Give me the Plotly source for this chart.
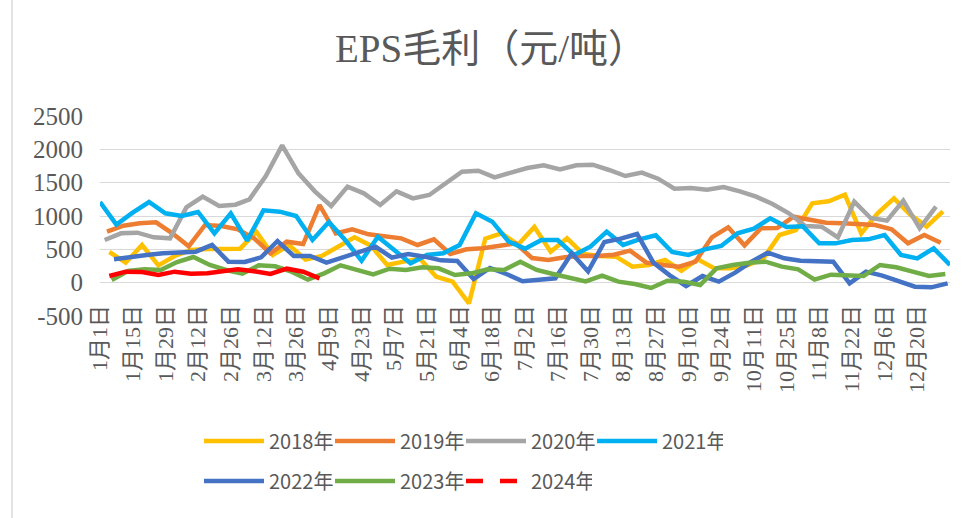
import pandas as pd
import plotly.graph_objects as go

title_text = "EPS毛利（元/吨）"

tick_labels = ["1月1日", "1月15日", "1月29日", "2月12日", "2月26日", "3月12日", "3月26日",
               "4月9日", "4月23日", "5月7日", "5月21日", "6月4日", "6月18日", "7月2日",
               "7月16日", "7月30日", "8月13日", "8月27日", "9月10日", "9月24日", "10月11日",
               "10月25日", "11月8日", "11月22日", "12月6日", "12月20日"]

y_ticks = [-500, 0, 500, 1000, 1500, 2000, 2500]
y_tick_labels = ["-500", "0", "500", "1000", "1500", "2000", "2500"]

series_names = ["2018年", "2019年", "2020年", "2021年", "2022年", "2023年", "2024年"]
# first weekly (Friday) observation of each year
first_dates = ["2018-01-05", "2019-01-04", "2020-01-03", "2021-01-01",
               "2022-01-07", "2023-01-06", "2024-01-05"]

v2018 = [460, 300, 565, 260, 400, 490, 505, 505, 510, 760,
         415, 565, 345, 400, 540, 680, 555, 265, 315, 360,
         90, 15, -310, 660, 740, 570, 835, 465, 665, 430,
         400, 390, 240, 265, 340, 180, 350, 215, 215, 255,
         360, 715, 790, 1190, 1220, 1320, 740, 1040, 1265, 1020,
         840, 1070]
v2019 = [765, 855, 890, 905, 740, 545, 865, 850, 800, 665,
         440, 615, 580, 1165, 740, 800, 725, 700, 665, 565,
         650, 430, 500, 515, 550, 590, 370, 340, 380, 400,
         400, 420, 480, 300, 265, 240, 315, 680, 830, 560,
         815, 820, 990, 950, 900, 890, 885, 865, 800, 590,
         715, 600]
v2020 = [640, 740, 750, 680, 665, 1130, 1290, 1150, 1170, 1250,
         1600, 2060, 1640, 1370, 1150, 1440, 1340, 1165, 1370, 1265,
         1315, 1490, 1665, 1680, 1580, 1650, 1720, 1760, 1700, 1760,
         1770, 1690, 1600, 1650, 1560, 1410, 1420, 1395, 1435, 1370,
         1290, 1180, 1040, 850, 840, 680, 1215, 970, 930, 1230,
         815, 1140]
v2021 = [1210, 870, 1050, 1210, 1040, 1000, 1060, 740, 1040, 630,
         1085, 1065, 1000, 640, 910, 640, 330, 690, 490, 290,
         415, 440, 565, 1040, 915, 615, 510, 640, 640, 415,
         540, 765, 565, 650, 710, 460, 415, 500, 550, 740,
         810, 965, 835, 845, 590, 590, 640, 650, 715, 415,
         365, 515, 265]
v2022 = [350, 390, 415, 440, 455, 465, 565, 315, 310, 380,
         625, 400, 400, 300, 380, 465, 540, 375, 430, 390,
         335, 325, 55, 220, 130, 20, 40, 65, 440, 170,
         610, 660, 730, 300, 110, -50, 100, 15, 150, 315,
         450, 365, 330, 320, 315, -10, 165, 105, 15, -60,
         -70, -10]
v2023 = [40, 175, 200, 190, 310, 385, 265, 190, 135, 260,
         245, 165, 45, 140, 260, 190, 125, 210, 190, 230,
         215, 115, 140, 200, 190, 315, 190, 130, 80, 20,
         105, 15, -20, -80, 30, 15, -35, 215, 265, 300,
         315, 240, 200, 45, 120, 105, 100, 265, 230, 165,
         100, 130]
v2024 = [100, 165, 160, 115, 165, 135, 140, 165, 200, 170, 130, 210, 165, 65]

series_values = [v2018, v2019, v2020, v2021, v2022, v2023, v2024]
colors = ["#FFC000", "#ED7D31", "#A5A5A5", "#00B0F0", "#4472C4", "#70AD47", "#FF0000"]

GRAY_TXT = "#595959"
SERIF = "Liberation Serif, 'Noto Sans CJK SC', serif"
SANS = "'Noto Sans CJK SC', sans-serif"

W, H = 964, 518
L, R, T, B = 100, 14, 116, 202
PW, PH = W - L - R, H - T - B


def weekly_dates(start, n):
    d = pd.date_range(start=start, periods=n, freq="7D")
    return [x.replace(year=2021) for x in d]


fig = go.Figure()
for i, (name, start, vals, col) in enumerate(zip(series_names, first_dates, series_values, colors)):
    legend_id = "legend" if i < 4 else "legend2"
    is_last = name == "2024年"
    fig.add_trace(go.Scatter(
        x=weekly_dates(start, len(vals)), y=vals, mode="lines", name=name,
        line=dict(color=col, width=4.5),
        legend=legend_id, showlegend=not is_last, legendgroup=name,
        hoverinfo="skip"))
    if is_last:
        # legend sample for the dashed 2024 series
        fig.add_trace(go.Scatter(
            x=[None], y=[None], mode="lines", name=name,
            line=dict(color=col, width=4.5, dash="17px,17px"),
            legend=legend_id, legendgroup=name))

tick_dates = pd.date_range("2021-01-01", periods=len(tick_labels), freq="14D")

legend_common = dict(orientation="h", xanchor="left", yanchor="middle",
                     itemwidth=60, entrywidth=56, entrywidthmode="pixels",
                     font=dict(family=SANS, size=20, color=GRAY_TXT),
                     bgcolor="rgba(0,0,0,0)", traceorder="normal")

fig.update_layout(
    width=W, height=H,
    margin=dict(l=L, r=R, t=T, b=B, autoexpand=False),
    paper_bgcolor="white", plot_bgcolor="white",
    title=dict(text=title_text, x=491 / W, xref="container", xanchor="center",
               y=1 - 48 / H, yref="container", yanchor="middle",
               font=dict(family=SERIF, size=39, color=GRAY_TXT)),
    xaxis=dict(type="date", range=["2021-01-01", "2021-12-31"],
               tickmode="array", tickvals=list(tick_dates), ticktext=tick_labels,
               tickangle=-90, showgrid=False, zeroline=False, showline=False,
               ticks="", anchor="free", position=500 / 3000,
               ticklabelstandoff=17,
               tickfont=dict(family=SERIF, size=22, color=GRAY_TXT)),
    yaxis=dict(range=[-500, 2500], tickmode="array", tickvals=y_ticks,
               ticktext=y_tick_labels,
               showgrid=True, gridcolor="#D9D9D9", gridwidth=1,
               zeroline=False, showline=False, ticks="",
               ticklabelstandoff=16,
               tickfont=dict(family=SERIF, size=25, color=GRAY_TXT)),
    legend=dict(x=(199 - L) / PW, y=(316 - 441) / PH, **legend_common),
    legend2=dict(x=(199 - L) / PW, y=(316 - 481) / PH, **legend_common),
    shapes=[dict(type="line", xref="paper", yref="paper",
                 x0=(12 - L) / PW, x1=(12 - L) / PW,
                 y0=(316 - H) / PH, y1=316 / PH,
                 line=dict(color="#D9D9D9", width=1.5))],
    showlegend=True,
)

fig.write_html("out.html", config={"displayModeBar": False},
               post_script="document.body.style.margin='0';")
